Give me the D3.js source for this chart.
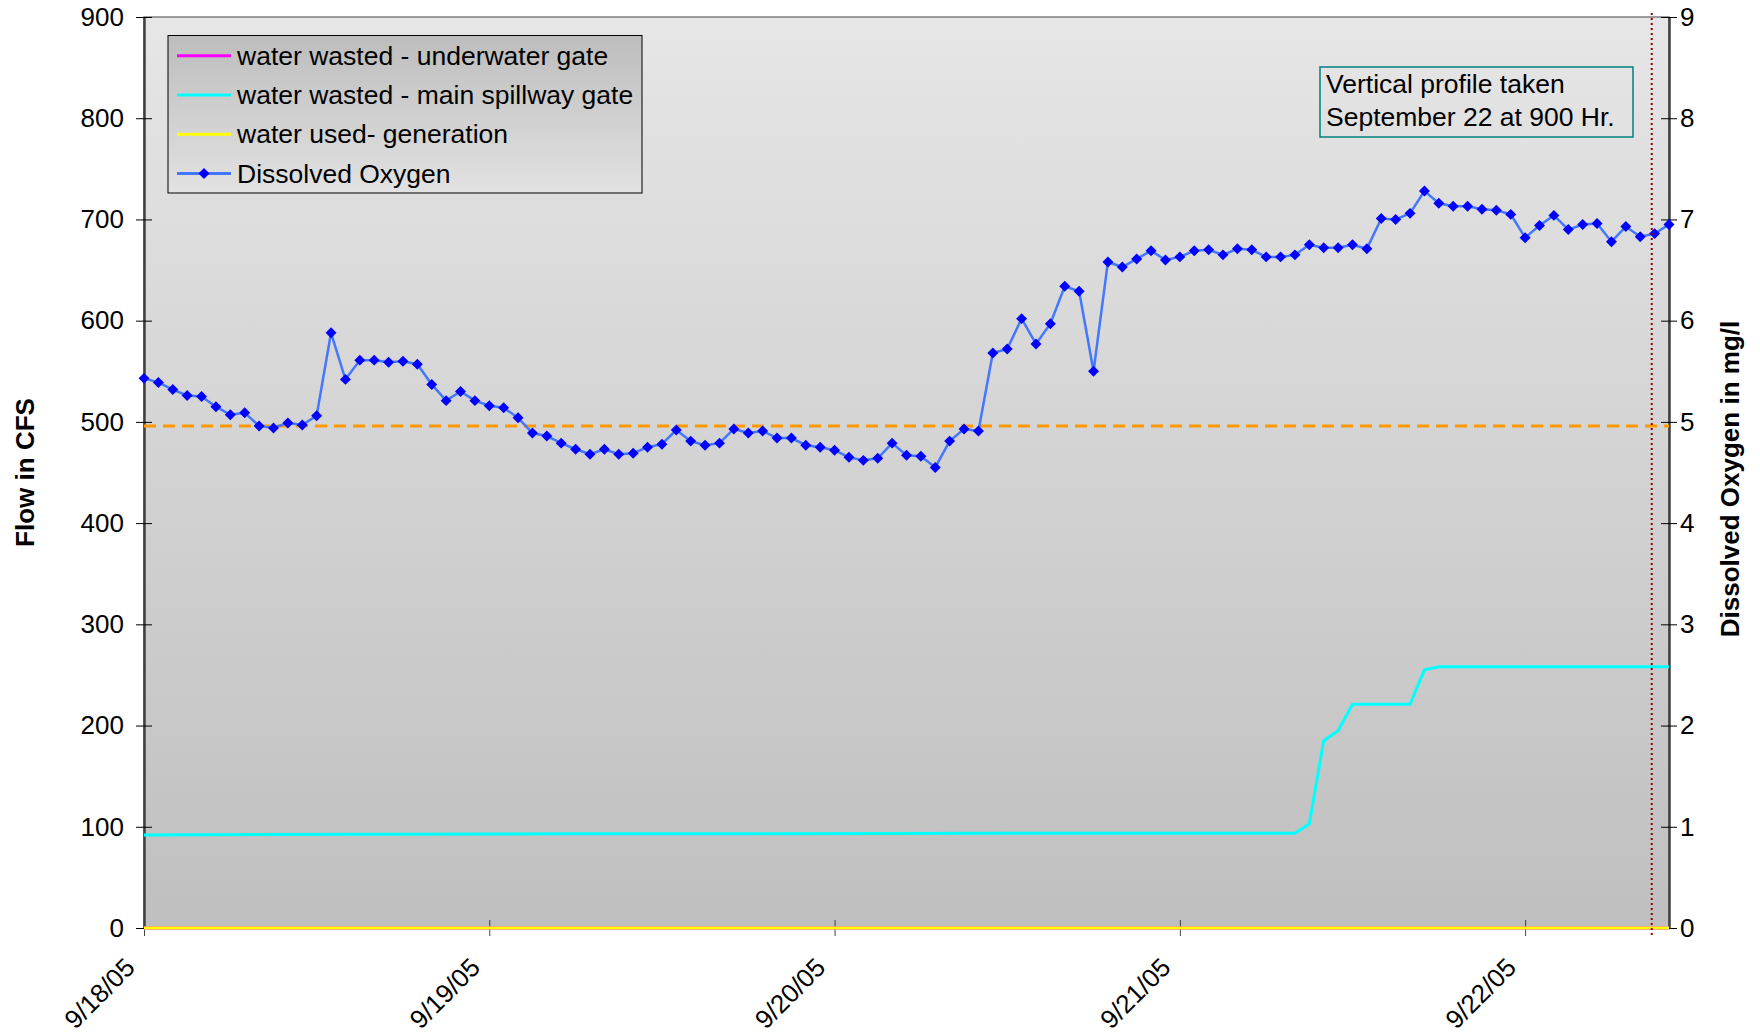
<!DOCTYPE html>
<html>
<head>
<meta charset="utf-8">
<title>Flow and Dissolved Oxygen</title>
<script src="https://cdn.jsdelivr.net/npm/d3@7"></script>
<style>
    html, body { margin: 0; padding: 0; background: #fff; }
    svg text { font-family: "Liberation Sans", Arial, sans-serif; }
</style>
</head>
<body>
<div id="chart"></div>
<script>
// hourly readings from 9/18/05 00:00 to 9/22/05 10:00
var startDate = Date.UTC(2005, 8, 18);
var lastHour = 106;

// dissolved oxygen, mg/l, one per hour
var doValues = [
    5.43, 5.39, 5.32, 5.26, 5.25, 5.15, 5.07, 5.09, 4.96, 4.94,
    4.99, 4.97, 5.06, 5.88, 5.42, 5.61, 5.61, 5.59, 5.60, 5.57,
    5.37, 5.21, 5.30, 5.21, 5.16, 5.14, 5.04, 4.89, 4.86, 4.79,
    4.73, 4.68, 4.73, 4.68, 4.69, 4.75, 4.78, 4.92, 4.81, 4.77,
    4.79, 4.93, 4.89, 4.91, 4.84, 4.84, 4.77, 4.75, 4.72, 4.65,
    4.62, 4.64, 4.79, 4.67, 4.66, 4.55, 4.81, 4.93, 4.91, 5.68,
    5.72, 6.02, 5.77, 5.97, 6.34, 6.29, 5.50, 6.58, 6.53, 6.61,
    6.69, 6.60, 6.63, 6.69, 6.70, 6.65, 6.71, 6.70, 6.63, 6.63,
    6.65, 6.75, 6.72, 6.72, 6.75, 6.71, 7.01, 7.00, 7.06, 7.28,
    7.16, 7.13, 7.13, 7.10, 7.09, 7.05, 6.82, 6.94, 7.04, 6.90,
    6.95, 6.96, 6.78, 6.93, 6.83, 6.86, 6.95
];

// flows in CFS, given at the hours where they change
var spillHours = [0, 30, 60, 80, 81, 82, 83, 84, 88, 89, 90, 106];
var spillFlow = [92, 93, 93.5, 93.5, 103, 185, 195, 221, 221, 255, 258, 258];
var gateHours = [0, 106];
var gateFlow = [0, 0];
var genHours = [0, 106];
var genFlow = [0, 0];

var standardDO = 4.96;     // orange dashed line
var profileHour = 104.8;   // vertical profile, 9/22 about 9:00

var flowTicks = [0, 100, 200, 300, 400, 500, 600, 700, 800, 900];
var doTicks = [0, 1, 2, 3, 4, 5, 6, 7, 8, 9];
var legendLabels = ["water wasted - underwater gate", "water wasted - main spillway gate",
    "water used- generation", "Dissolved Oxygen"];
var legendColors = ["#ff00ff", "#00ffff", "#ffff00", "#4477ff"];
var noteLines = ["Vertical profile taken", "September 22 at 900 Hr."];

(function () {
    "use strict";
    var w = 1760, h = 1036;
    var left = 144, top = 17, right = 1669, bottom = 928;
    var hourMs = 3600 * 1000;
    var font = '"Liberation Sans", Arial, sans-serif';

    function toDate(hr) {
        return new Date(startDate + hr * hourMs);
    }

    var svg = d3.select('#chart').append('svg').attr('width', w).attr('height', h);

    var x = d3.scaleUtc().domain([toDate(0), toDate(lastHour)]).range([left, right]);
    var yFlow = d3.scaleLinear().domain([0, 900]).range([bottom, top]);
    var yDO = d3.scaleLinear().domain([0, 9]).range([bottom, top]);

    var defs = svg.append('defs');
    var plotGrad = defs.append('linearGradient').attr('id', 'plotGrad')
        .attr('x1', 0).attr('y1', 0).attr('x2', 0).attr('y2', 1);
    plotGrad.append('stop').attr('offset', '0%').attr('stop-color', '#e6e6e6');
    plotGrad.append('stop').attr('offset', '100%').attr('stop-color', '#bfbfbf');
    var legGrad = defs.append('linearGradient').attr('id', 'legGrad')
        .attr('x1', 0).attr('y1', 0).attr('x2', 0).attr('y2', 1);
    legGrad.append('stop').attr('offset', '0%').attr('stop-color', '#bdbdbd');
    legGrad.append('stop').attr('offset', '100%').attr('stop-color', '#e2e2e2');

    // plot area
    svg.append('rect')
        .attr('x', left).attr('y', top)
        .attr('width', right - left).attr('height', bottom - top)
        .attr('fill', 'url(#plotGrad)')
        .attr('stroke', '#808080').attr('stroke-width', 1.5);

    // axes
    var xAxis = svg.append('g').attr('transform', 'translate(0,' + bottom + ')')
        .call(d3.axisBottom(x).ticks(d3.utcDay.every(1))
            .tickFormat(d3.utcFormat('%-m/%-d/%y')).tickSize(8).tickSizeOuter(0));
    xAxis.selectAll('.tick line').attr('y1', -8).attr('stroke', '#404040');
    xAxis.selectAll('.tick text')
        .attr('x', 0).attr('y', 0).attr('dy', 0)
        .attr('text-anchor', 'end')
        .attr('transform', 'translate(-8,41) rotate(-45)')
        .attr('font-size', 26).attr('font-family', font)
        .attr('fill', '#000');
    xAxis.select('.domain').attr('stroke', '#404040').attr('stroke-width', 1.5);

    var yAxisL = svg.append('g').attr('transform', 'translate(' + left + ',0)')
        .call(d3.axisLeft(yFlow).tickValues(flowTicks).tickSize(8).tickPadding(12).tickSizeOuter(0));
    yAxisL.selectAll('.tick line').attr('x1', 8).attr('stroke', '#000');
    yAxisL.selectAll('.tick text').attr('font-size', 26)
        .attr('font-family', font).attr('fill', '#000');
    yAxisL.select('.domain').attr('stroke', '#404040').attr('stroke-width', 2.5);

    var yAxisR = svg.append('g').attr('transform', 'translate(' + right + ',0)')
        .call(d3.axisRight(yDO).tickValues(doTicks).tickSize(8).tickPadding(3).tickSizeOuter(0));
    yAxisR.selectAll('.tick line').attr('x1', -8).attr('stroke', '#000');
    yAxisR.selectAll('.tick text').attr('font-size', 26)
        .attr('font-family', font).attr('fill', '#000');
    yAxisR.select('.domain').attr('stroke', '#404040').attr('stroke-width', 2.5);

    // DO standard line
    svg.append('line')
        .attr('x1', left).attr('x2', right)
        .attr('y1', yDO(standardDO)).attr('y2', yDO(standardDO))
        .attr('stroke', '#ff9900').attr('stroke-width', 3)
        .attr('stroke-dasharray', '12,7');

    // flow series
    function flowLine(hours, flows) {
        return d3.line()
            .x(function (d, i) { return x(toDate(hours[i])); })
            .y(function (d) { return yFlow(d); })(flows);
    }
    svg.append('path').attr('d', flowLine(gateHours, gateFlow))
        .attr('fill', 'none').attr('stroke', legendColors[0]).attr('stroke-width', 3);
    svg.append('path').attr('d', flowLine(spillHours, spillFlow))
        .attr('fill', 'none').attr('stroke', legendColors[1]).attr('stroke-width', 3);
    svg.append('path').attr('d', flowLine(genHours, genFlow))
        .attr('fill', 'none').attr('stroke', legendColors[2]).attr('stroke-width', 3);

    // dissolved oxygen
    var doLine = d3.line()
        .x(function (d, i) { return x(toDate(i)); })
        .y(function (d) { return yDO(d); });
    svg.append('path').attr('d', doLine(doValues))
        .attr('fill', 'none').attr('stroke', legendColors[3]).attr('stroke-width', 2.5);
    var diamond = d3.symbol(d3.symbolSquare, 60);
    svg.selectAll('path.marker').data(doValues).enter().append('path')
        .attr('class', 'marker')
        .attr('d', diamond)
        .attr('transform', function (d, i) {
            return 'translate(' + x(toDate(i)) + ',' + yDO(d) + ') rotate(45)';
        })
        .attr('fill', '#0000ff');

    // vertical profile time
    svg.append('line')
        .attr('x1', x(toDate(profileHour))).attr('x2', x(toDate(profileHour)))
        .attr('y1', 13).attr('y2', 938)
        .attr('stroke', '#990000').attr('stroke-width', 2)
        .attr('stroke-dasharray', '2,3');

    // note box
    svg.append('rect')
        .attr('x', 1320).attr('y', 67).attr('width', 313).attr('height', 70)
        .attr('fill', 'none').attr('stroke', '#008080').attr('stroke-width', 1.5);
    svg.selectAll('text.note').data(noteLines).enter().append('text')
        .attr('class', 'note')
        .attr('x', 1326)
        .attr('y', function (d, i) { return 93 + i * 33; })
        .attr('font-size', 26.5)
        .text(function (d) { return d; });

    // legend
    var legend = svg.append('g');
    legend.append('rect')
        .attr('x', 168).attr('y', 35.5).attr('width', 474).attr('height', 157.5)
        .attr('fill', 'url(#legGrad)').attr('stroke', '#000').attr('stroke-width', 1);
    var rows = legend.selectAll('g').data(legendLabels).enter().append('g')
        .attr('transform', function (d, i) { return 'translate(0,' + (55.7 + i * 39.3) + ')'; });
    rows.append('line')
        .attr('x1', 177).attr('x2', 231)
        .attr('stroke', function (d, i) { return legendColors[i]; })
        .attr('stroke-width', 3);
    rows.filter(function (d, i) { return i === 3; }).append('path')
        .attr('d', diamond)
        .attr('transform', 'translate(204,0) rotate(45)')
        .attr('fill', '#0000ff');
    rows.append('text')
        .attr('x', 237).attr('dy', '0.34em')
        .attr('font-size', 26.5)
        .text(function (d) { return d; });

    // axis titles
    svg.append('text')
        .attr('transform', 'translate(25,' + ((top + bottom) / 2) + ') rotate(-90)')
        .attr('text-anchor', 'middle').attr('dy', '0.35em')
        .attr('font-size', 26).attr('font-weight', 'bold')
        .text('Flow in CFS');
    svg.append('text')
        .attr('transform', 'translate(1730,479) rotate(-90)')
        .attr('text-anchor', 'middle').attr('dy', '0.35em')
        .attr('font-size', 26).attr('font-weight', 'bold')
        .text('Dissolved Oxygen in mg/l');
}());
</script>
</body>
</html>
